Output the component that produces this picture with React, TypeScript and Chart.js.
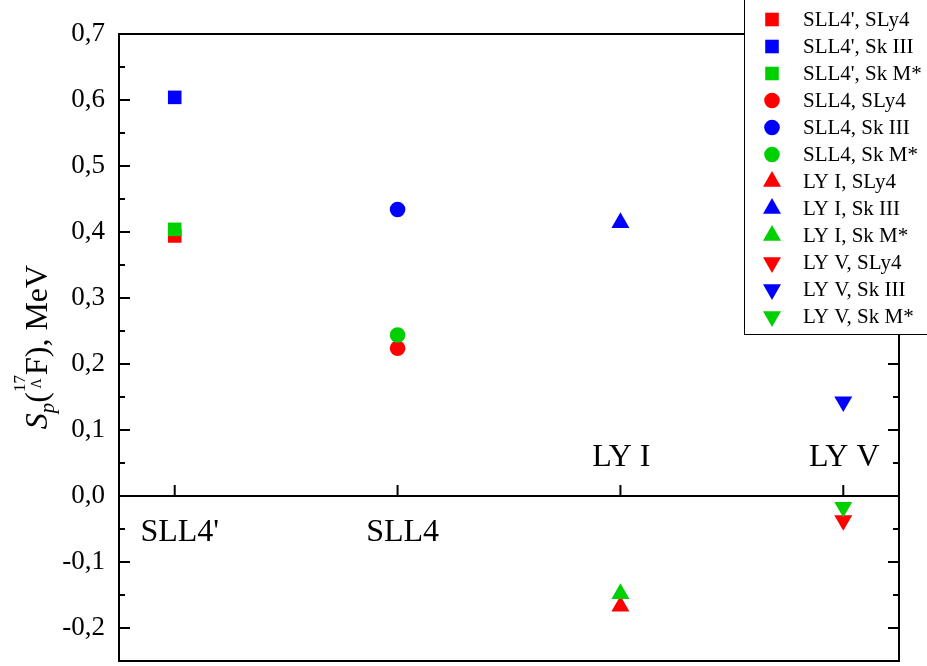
import React, { useEffect, useRef } from "react";
import { Chart, registerables } from "chart.js";
import { drawPoint } from "chart.js/helpers";

Chart.register(...registerables);

// ---- data ----
const parametrizations = ["SLL4'", "SLL4", "LY I", "LY V"];
const forces = ["SLy4", "Sk III", "Sk M*"];
const sly4Values = [0.394, 0.224, -0.167, -0.037];
const sk3Values = [0.604, 0.434, 0.414, 0.143];
const skmValues = [0.404, 0.244, -0.148, -0.017];
const yTickValues = [-0.2, -0.1, 0.0, 0.1, 0.2, 0.3, 0.4, 0.5, 0.6, 0.7];
const yMinorValues = [-0.25, -0.15, -0.05, 0.05, 0.15, 0.25, 0.35, 0.45, 0.55, 0.65];

const forceValues = [sly4Values, sk3Values, skmValues];
const forceColors = ["#ff0000", "#0000ff", "#00d000"];
const forceOrder = [2, 1, 0];
const markerStyles: any[] = [
  { pointStyle: "rect", radius: 9.6, rotation: 0 },
  { pointStyle: "circle", radius: 7.8, rotation: 0 },
  { pointStyle: "triangle", radius: 10.4, rotation: 0 },
  { pointStyle: "triangle", radius: 10.4, rotation: 180 },
];

const SERIF = "'Liberation Serif', 'Times New Roman', serif";

function buildDatasets() {
  const ds: any[] = [];
  parametrizations.forEach((p, j) => {
    forces.forEach((f, k) => {
      const m = markerStyles[j];
      ds.push({
        label: `${p}, ${f}`,
        data: [{ x: j + 1, y: forceValues[k][j] }],
        backgroundColor: forceColors[k],
        borderColor: forceColors[k],
        borderWidth: 0,
        pointStyle: m.pointStyle,
        pointRadius: m.radius,
        pointRotation: m.rotation,
        pointHoverRadius: m.radius,
        order: forceOrder[k],
      });
    });
  });
  return ds;
}

function drawYTitle(ctx: CanvasRenderingContext2D, cx: number, cy: number) {
  const big = `32px ${SERIF}`;
  const pieces: any[] = [
    { t: "S", font: `italic 32px ${SERIF}`, dy: 0 },
    { t: "p", font: `italic 21px ${SERIF}`, dy: 7 },
    { t: "(", font: big, dy: 0 },
    { stack: [
      { t: "17", font: `17px ${SERIF}`, dy: -22 },
      { t: "\u039B", font: `14px ${SERIF}`, dy: -6 },
    ] },
    { t: "F", font: big, dy: 0 },
    { t: ")", font: big, dy: 0 },
    { t: ", MeV", font: big, dy: 0 },
  ];
  const widthOf = (p: any) => {
    if (p.stack) {
      return Math.max(...p.stack.map((s: any) => { ctx.font = s.font; return ctx.measureText(s.t).width; }));
    }
    ctx.font = p.font;
    return ctx.measureText(p.t).width;
  };
  const total = pieces.reduce((a, p) => a + widthOf(p), 0);
  ctx.save();
  ctx.translate(cx, cy);
  ctx.rotate(-Math.PI / 2);
  ctx.fillStyle = "#000";
  ctx.textBaseline = "alphabetic";
  ctx.textAlign = "left";
  let x = -total / 2;
  pieces.forEach((p) => {
    const w = widthOf(p);
    if (p.stack) {
      p.stack.forEach((s: any) => {
        ctx.font = s.font;
        const sw = ctx.measureText(s.t).width;
        ctx.fillText(s.t, x + (w - sw) / 2, s.dy);
      });
    } else {
      ctx.font = p.font;
      ctx.fillText(p.t, x, p.dy);
    }
    x += w;
  });
  ctx.restore();
}

const framePlugin = {
  id: "frame",
  beforeDatasetsDraw(chart: any) {
    const { ctx, chartArea } = chart;
    const ys = chart.scales.y;
    const xs = chart.scales.x;
    const { left, right, top, bottom } = chartArea;
    ctx.save();
    ctx.strokeStyle = "#000";
    ctx.lineWidth = 2;
    ctx.beginPath();
    ctx.rect(left, top, right - left, bottom - top);
    ctx.stroke();
    const y0 = ys.getPixelForValue(0);
    ctx.beginPath();
    ctx.moveTo(left, y0);
    ctx.lineTo(right, y0);
    ctx.stroke();
    yTickValues.forEach((v) => {
      const y = ys.getPixelForValue(v);
      ctx.beginPath();
      ctx.moveTo(left, y);
      ctx.lineTo(left + 11, y);
      ctx.moveTo(right, y);
      ctx.lineTo(right - 11, y);
      ctx.stroke();
    });
    yMinorValues.forEach((v) => {
      const y = ys.getPixelForValue(v);
      ctx.beginPath();
      ctx.moveTo(left, y);
      ctx.lineTo(left + 6, y);
      ctx.moveTo(right, y);
      ctx.lineTo(right - 6, y);
      ctx.stroke();
    });
    parametrizations.forEach((p, j) => {
      const x = xs.getPixelForValue(j + 1);
      ctx.beginPath();
      ctx.moveTo(x, y0);
      ctx.lineTo(x, y0 - 11);
      ctx.stroke();
    });
    ctx.fillStyle = "#000";
    ctx.font = `32px ${SERIF}`;
    ctx.textAlign = "center";
    ctx.textBaseline = "alphabetic";
    parametrizations.forEach((p, j) => {
      const x = xs.getPixelForValue(j + 1);
      const below = j < 2;
      ctx.fillText(p, below ? x + 5 : x + 1, below ? y0 + 45 : y0 - 30);
    });
    ctx.restore();
  },
  afterDraw(chart: any) {
    const { ctx } = chart;
    ctx.save();
    const lx = 744.5, ltop = -1, lw = 200, lbottom = 334.5;
    ctx.fillStyle = "#fff";
    ctx.fillRect(lx, ltop, lw, lbottom - ltop);
    ctx.strokeStyle = "#000";
    ctx.lineWidth = 1;
    ctx.strokeRect(lx, ltop, lw, lbottom - ltop);
    ctx.textAlign = "left";
    ctx.textBaseline = "middle";
    chart.data.datasets.forEach((d: any, i: number) => {
      const cy = 19.5 + i * 27;
      ctx.fillStyle = d.backgroundColor;
      ctx.strokeStyle = d.borderColor;
      drawPoint(ctx, { pointStyle: d.pointStyle, rotation: d.pointRotation, radius: d.pointRadius, borderWidth: 0 } as any, 772, cy);
      ctx.fillStyle = "#000";
      ctx.font = `21px ${SERIF}`;
      ctx.fillText(d.label, 803, cy + 1);
    });
    ctx.restore();
    drawYTitle(ctx, 47, 347);
  },
};

export default function App() {
  const ref = useRef<HTMLCanvasElement>(null);
  useEffect(() => {
    const chart = new Chart(ref.current as HTMLCanvasElement, {
      type: "scatter",
      data: { datasets: buildDatasets() },
      plugins: [framePlugin],
      options: {
        animation: false,
        responsive: false,
        devicePixelRatio: 1,
        layout: { autoPadding: false, padding: { top: 34, right: 28, bottom: 5, left: 0 } },
        plugins: { legend: { display: false }, tooltip: { enabled: false } },
        scales: {
          x: { type: "linear", display: false, min: 0.75, max: 4.25 },
          y: {
            type: "linear",
            min: -0.25,
            max: 0.7,
            afterFit: (s: any) => { s.width = 119; s.paddingTop = 0; s.paddingBottom = 0; },
            afterBuildTicks: (s: any) => { s.ticks = yTickValues.map((v) => ({ value: v })); },
            grid: { display: false, drawTicks: false },
            border: { display: false },
            ticks: {
              padding: 14,
              color: "#000",
              font: { family: SERIF, size: 27 },
              callback: (v: any) => Number(v).toFixed(1).replace(".", ","),
            },
          },
        },
      },
    } as any);
    return () => chart.destroy();
  }, []);
  return (
    <div style={{ position: "absolute", left: 0, top: 0, width: 927, height: 666, background: "#fff" }}>
      <canvas ref={ref} width={927} height={666} style={{ display: "block", width: 927, height: 666 }} />
    </div>
  );
}
